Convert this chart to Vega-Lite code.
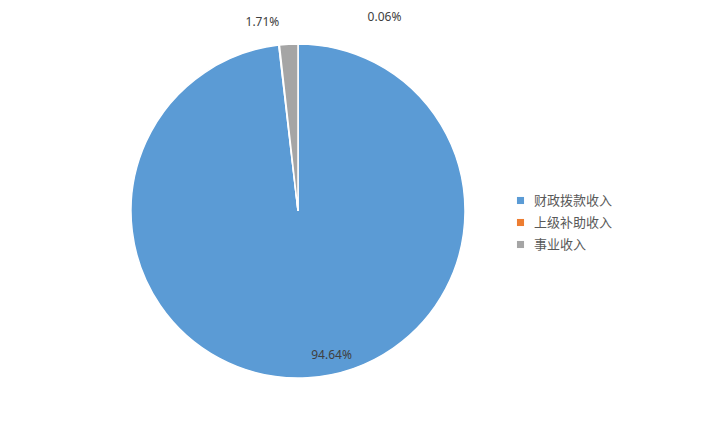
{
  "$schema": "https://vega.github.io/schema/vega-lite/v6.json",
  "width": 596,
  "height": 422,
  "autosize": "none",
  "padding": {"left": 0, "top": 0, "right": 126, "bottom": 0},
  "background": "white",
  "config": {
    "view": {"stroke": null},
    "font": "Noto Sans CJK SC"
  },
  "data": {
    "values": [
      {"category": "财政拨款收入", "share": 0.9464, "rank": 1},
      {"category": "上级补助收入", "share": 0.0006, "rank": 2},
      {"category": "事业收入", "share": 0.0171, "rank": 3}
    ]
  },
  "encoding": {
    "theta": {"field": "share", "type": "quantitative", "stack": true},
    "order": {"field": "rank", "type": "quantitative"}
  },
  "layer": [
    {
      "mark": {"type": "arc", "outerRadius": 167, "stroke": "white", "strokeWidth": 1.5},
      "encoding": {
        "color": {
          "field": "category",
          "type": "nominal",
          "scale": {
            "domain": ["财政拨款收入", "上级补助收入", "事业收入"],
            "range": ["#5B9BD5", "#ED7D31", "#A5A5A5"]
          },
          "legend": {
            "title": null,
            "orient": "none",
            "legendX": 514,
            "legendY": 194,
            "symbolType": "square",
            "symbolSize": 50,
            "symbolStrokeWidth": 0,
            "labelFont": "Noto Sans CJK SC",
            "labelFontSize": 13,
            "labelColor": "#595959",
            "labelOffset": 7,
            "rowPadding": 8
          }
        }
      }
    },
    {
      "mark": {"type": "text", "radius": 148, "dx": 25, "dy": -4, "font": "Noto Sans", "fontSize": 12, "color": "#404040"},
      "encoding": {
        "text": {"condition": {"test": "datum.category === '财政拨款收入'", "field": "share", "format": ".2%"}, "value": ""}
      }
    },
    {
      "mark": {"type": "text", "radius": 190, "dx": -25, "dy": 1, "font": "Noto Sans", "fontSize": 12, "color": "#404040"},
      "encoding": {
        "text": {"condition": {"test": "datum.category === '事业收入'", "field": "share", "format": ".2%"}, "value": ""}
      }
    },
    {
      "mark": {"type": "text", "radius": 190, "dx": 108, "dy": -5, "font": "Noto Sans", "fontSize": 12, "color": "#404040"},
      "encoding": {
        "text": {"condition": {"test": "datum.category === '上级补助收入'", "field": "share", "format": ".2%"}, "value": ""}
      }
    }
  ]
}
